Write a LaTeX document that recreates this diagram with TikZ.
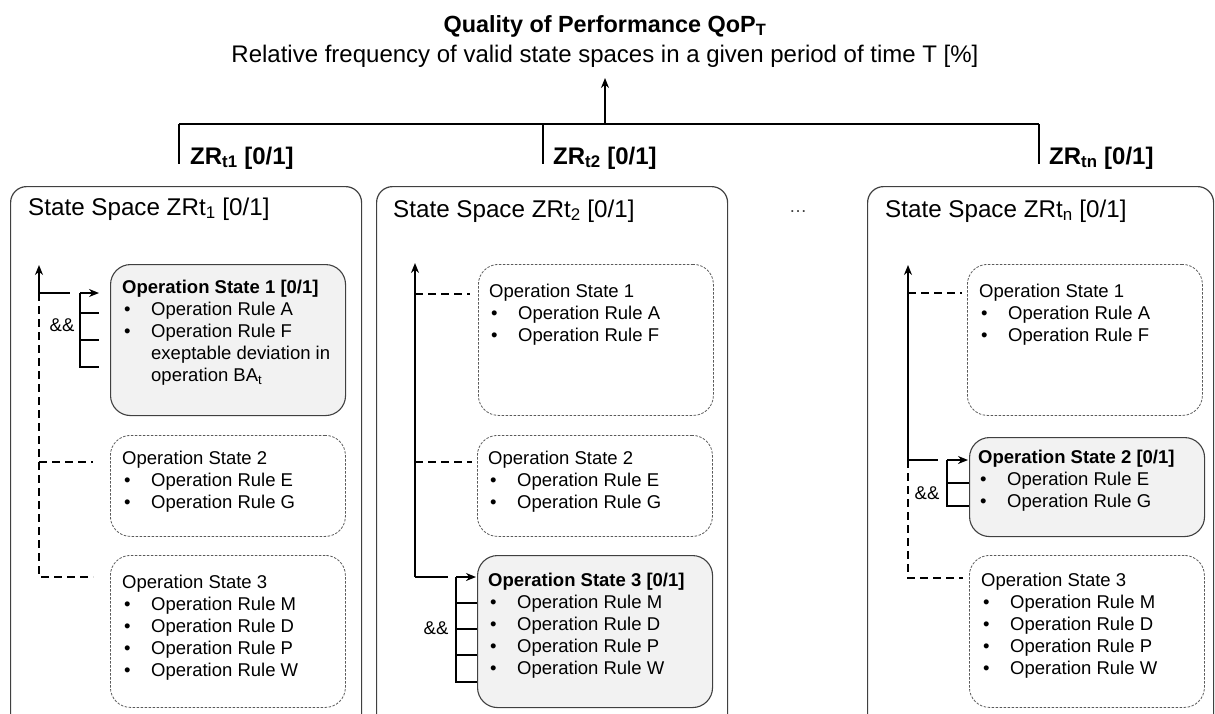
\documentclass[tikz,border=0pt]{standalone}
\usepackage{fontspec}
\setmainfont{Liberation Sans}
\usepackage{xcolor}
\definecolor{frameLine}{HTML}{404040}
\definecolor{idleLine} {HTML}{5A5A5A}
\definecolor{stateBack}{HTML}{F2F2F2}
\usetikzlibrary{arrows.meta, positioning}
\tikzset{
    spacebox/.style={draw=frameLine, line width=1.2pt, rounded corners=16pt,
                     minimum width=351pt, minimum height=545pt,
                     anchor=north west, inner sep=0pt},
    activebox/.style={draw=frameLine, line width=1.1pt, fill=stateBack,
                      rounded corners=20pt, minimum width=235pt,
                      anchor=north west, inner sep=0pt},
    idlebox/.style={draw=idleLine, line width=0.8pt,
                    dash pattern=on 2.5pt off 1.5pt, rounded corners=20pt,
                    minimum width=235pt, anchor=north west, inner sep=0pt},
    statetext/.style={anchor=north west, inner sep=0pt, align=left,
                      font=\fontsize{18.5}{22}\selectfont},
    spacetitle/.style={anchor=base west, inner sep=0pt,
                       font=\fontsize{24.2}{28}\selectfont},
    zrlabel/.style={anchor=base west, inner sep=0pt,
                    font=\bfseries\fontsize{24}{28}\selectfont},
    andlabel/.style={inner sep=0pt, font=\fontsize{18.5}{22}\selectfont},
    feed/.style={line width=1.6pt},
    feedarrow/.style={line width=1.6pt, -{Stealth[length=10pt, width=8pt]}},
    idlefeed/.style={line width=1.6pt, dash pattern=on 8pt off 5pt},
}
\newcommand{\oprule}[1]{\\\hspace*{2pt}\makebox[27pt][l]{\textbullet}Operation Rule #1}

\begin{document}
\begin{tikzpicture}[x=1pt, y=-1pt]
    \useasboundingbox (0,0) rectangle (1215,713);
    % overall measure
    \node[anchor=base, inner sep=0pt, font=\bfseries\fontsize{23.4}{27}\selectfont]
        (qop) at (605,32) {Quality of Performance QoP\textsubscript{T}};
    \node[anchor=base, inner sep=0pt, font=\fontsize{24}{28}\selectfont]
        (qopsub) at (605,62) {Relative frequency of valid state spaces in a given period of time T [\%]};
    \coordinate (bar1) at (179,124);
    \coordinate (bar2) at (543,124);
    \coordinate (bar3) at (1039,124);
    \coordinate (barmid) at (605,124);
    \coordinate (qoptip) at (605,78);
    \draw[feed] (bar1) -- (bar3);
    \draw[feedarrow] (barmid) -- (qoptip);
    \node[zrlabel] (zr1) at (190,164) {ZR\textsubscript{t1} [0/1]};
    \node[zrlabel] (zr2) at (553,164) {ZR\textsubscript{t2} [0/1]};
    \node[zrlabel] (zr3) at (1049,164) {ZR\textsubscript{tn} [0/1]};
    \draw[feed] (bar1) -- (bar1 |- zr1.base);
    \draw[feed] (bar2) -- (bar2 |- zr2.base);
    \draw[feed] (bar3) -- (bar3 |- zr3.base);

    % state space 1
    \node[spacebox] (sp1) at (10,186) {};
    \node[spacetitle] (sp1t) at (28,215) {State Space ZRt\textsubscript{1} [0/1]};
    \node[activebox, minimum height=151pt] (os11) at (110,264) {};
    \node[idlebox, minimum height=101pt] (os12) at (110,435) {};
    \node[idlebox, minimum height=152pt] (os13) at (110,555) {};
    \node[statetext, below right=16pt and 12pt of os11.north west] (os11t)
        {\textbf{Operation State 1 [0/1]}\oprule{A}\oprule{F}\\
         \hspace*{29pt}exeptable deviation in\\
         \hspace*{29pt}operation BA\textsubscript{t}};
    \node[statetext, below right=16pt and 12pt of os12.north west] (os12t)
        {Operation State 2\oprule{E}\oprule{G}};
    \node[statetext, below right=20pt and 12pt of os13.north west] (os13t)
        {Operation State 3\oprule{M}\oprule{D}\oprule{P}\oprule{W}};
    \coordinate (l0) at (39,265);
    \coordinate (l1) at (39,293);
    \coordinate (l2) at (39,462);
    \coordinate (l3) at (39,577);
    \coordinate (l1e) at (70,293);
    \coordinate (l2e) at (93,462);
    \coordinate (l3e) at (93,577);
    \draw[feedarrow] (l1) -- (l0);
    \draw[feed] (l1) -- (l1e);
    \draw[idlefeed] (l1) -- (l3) -- (l3e);
    \draw[idlefeed] (l2) -- (l2e);
    % && bracket
    \coordinate (lb) at (80,293);
    \draw[feedarrow] (lb) -- ++(19,0);
    \draw[feed] (lb) -- (80,367) -- ++(19,0);
    \foreach \y in {313,340}
        \draw[feed] (80,\y) -- ++(19,0);
    \node[andlabel] (and1) at (62,325) {\&\&};

    % state space 2
    \node[spacebox] (sp2) at (376,186) {};
    \node[spacetitle] (sp2t) at (393,217) {State Space ZRt\textsubscript{2} [0/1]};
    \node[idlebox, minimum height=151pt] (os21) at (478,264) {};
    \node[idlebox, minimum height=101pt] (os22) at (477,435) {};
    \node[activebox, minimum height=152pt] (os23) at (477,555) {};
    \node[statetext, below right=20pt and 11pt of os21.north west] (os21t)
        {Operation State 1\oprule{A}\oprule{F}};
    \node[statetext, below right=16pt and 11pt of os22.north west] (os22t)
        {Operation State 2\oprule{E}\oprule{G}};
    \node[statetext, below right=18pt and 11pt of os23.north west] (os23t)
        {\textbf{Operation State 3 [0/1]}\oprule{M}\oprule{D}\oprule{P}\oprule{W}};
    \coordinate (m0) at (415,263);
    \coordinate (m1) at (415,294);
    \coordinate (m2) at (415,462);
    \coordinate (m3) at (415,577);
    \coordinate (m1e) at (470,294);
    \coordinate (m2e) at (472,462);
    \coordinate (m3e) at (448,577);
    \draw[feedarrow] (m3) -- (m0);
    \draw[idlefeed] (m1) -- (m1e);
    \draw[idlefeed] (m2) -- (m2e);
    \draw[feed] (m3) -- (m3e);
    % && bracket
    \coordinate (mb) at (456,577);
    \draw[feedarrow] (mb) -- ++(20,0);
    \draw[feed] (mb) -- (456,682) -- ++(21,0);
    \foreach \y in {603,629,655}
        \draw[feed] (456,\y) -- ++(21,0);
    \node[andlabel] (and2) at (436,628) {\&\&};

    \node[inner sep=0pt, text=frameLine, font=\fontsize{18}{20}\selectfont]
        (more) at (798,212) {\dots};

    % state space n
    \node[spacebox, minimum width=346pt] (sp3) at (867,186) {};
    \node[spacetitle] (sp3t) at (885,217) {State Space ZRt\textsubscript{n} [0/1]};
    \node[idlebox, minimum height=151pt] (os31) at (967,264) {};
    \node[activebox, minimum height=99pt] (os32) at (969,437) {};
    \node[idlebox, minimum height=152pt] (os33) at (969,555) {};
    \node[statetext, below right=20pt and 12pt of os31.north west] (os31t)
        {Operation State 1\oprule{A}\oprule{F}};
    \node[statetext, below right=13pt and 9pt of os32.north west] (os32t)
        {\textbf{Operation State 2 [0/1]}\oprule{E}\oprule{G}};
    \node[statetext, below right=18pt and 12pt of os33.north west] (os33t)
        {Operation State 3\oprule{M}\oprule{D}\oprule{P}\oprule{W}};
    \coordinate (r0) at (908,265);
    \coordinate (r1) at (908,293);
    \coordinate (r2) at (908,460);
    \coordinate (r3) at (908,578);
    \coordinate (r1e) at (962,293);
    \coordinate (r2e) at (938,460);
    \coordinate (r3e) at (963,578);
    \draw[feedarrow] (r2) -- (r0);
    \draw[idlefeed] (r1) -- (r1e);
    \draw[feed] (r2) -- (r2e);
    \draw[idlefeed] (r2) -- (r3) -- (r3e);
    % && bracket
    \coordinate (rb) at (947,460);
    \draw[feedarrow] (rb) -- ++(21,0);
    \draw[feed] (rb) -- (947,506) -- ++(22,0);
    \draw[feed] (947,483) -- ++(22,0);
    \node[andlabel] (and3) at (927,493) {\&\&};
\end{tikzpicture}
\end{document}
